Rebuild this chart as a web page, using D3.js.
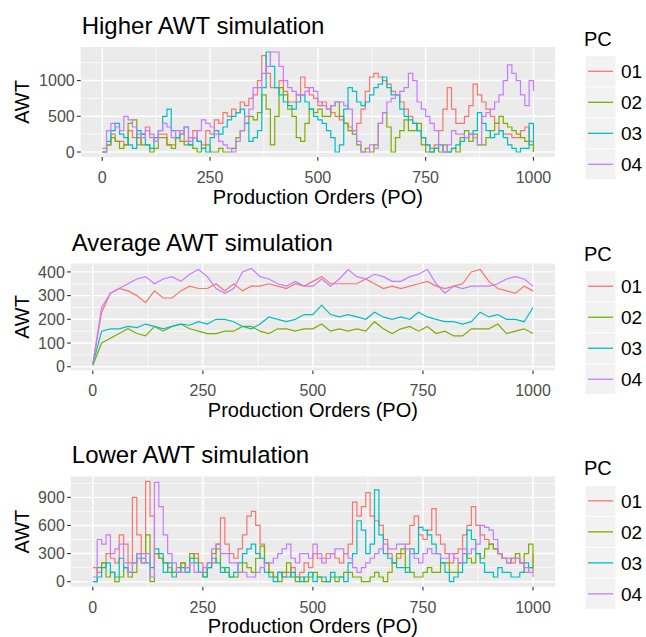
<!DOCTYPE html>
<html>
<head>
<meta charset="utf-8">
<script src="https://cdn.jsdelivr.net/npm/d3@7"></script>
<style>
  body { margin: 0; background: #fff; }
  svg { display: block; font-family: "Liberation Sans", Arial, sans-serif; }
</style>
</head>
<body>
<svg width="646" height="637"></svg>
<script>
// production orders, read every 10 POs (noisy panels) or every 20 POs (average panel)
const po10 = [0,10,20,30,40,50,60,70,80,90,100,110,120,130,140,150,160,170,180,190,
  200,210,220,230,240,250,260,270,280,290,300,310,320,330,340,350,360,370,380,390,
  400,410,420,430,440,450,460,470,480,490,500,510,520,530,540,550,560,570,580,590,
  600,610,620,630,640,650,660,670,680,690,700,710,720,730,740,750,760,770,780,790,
  800,810,820,830,840,850,860,870,880,890,900,910,920,930,940,950,960,970,980,990,1000];
const po20 = [0,20,40,60,80,100,120,140,160,180,200,220,240,260,280,300,320,340,360,380,
  400,420,440,460,480,500,520,540,560,580,600,620,640,660,680,700,720,740,760,780,
  800,820,840,860,880,900,920,940,960,980,1000];

const pcs = ["01", "02", "03", "04"];
const colors = ["#F8766D", "#7CAE00", "#00BFC4", "#C77CFF"];
const xTicks = [0, 250, 500, 750, 1000];

// Higher AWT simulation (po10)
const higher01 = [50,100,250,150,150,100,300,200,100,250, 350,200,150,250,250,100,100,200,300,150,
  200,300,150,100,300,250,450,400,550,500, 600,550,700,650,750,800,1000,1350,1100,900,
  900,1000,850,700,700,800,1050,900,800,750, 650,700,600,550,500,450,400,350,300,400,
  600,850,1050,1100,1050,1000,950,850,800,700, 600,500,400,300,200,100,50,100,300,600,
  900,600,400,400,500,650,950,800,700,600, 500,400,300,250,250,200,200,300,350,150, 0];
const higher02 = [0,100,200,150,50,100,400,450,200,100, 100,0,50,200,200,100,50,200,150,100,
  100,50,0,50,100,0,0,50,0,0, 50,200,300,400,500,450,550,800,600,100,
  500,900,800,600,500,200,150,400,600,550, 600,500,500,650,700,500,400,300,250,100,
  0,50,0,100,400,550,350,0,200,300, 450,300,300,400,100,0,0,50,0,100,
  0,50,0,200,300,150,250,100,100,200, 300,400,500,400,350,300,250,200,150,100, 0];
const higher03 = [0,150,300,400,250,200,100,50,300,250, 100,50,200,300,500,600,300,200,250,350,
  100,200,150,50,0,200,300,250,350,450, 500,550,600,400,150,200,300,900,1400,1200,
  900,800,700,650,600,700,800,700,600,500, 450,400,300,200,0,100,600,900,850,700,
  650,700,800,900,950,1050,900,800,800,600, 500,450,400,300,200,100,0,50,100,0,
  0,50,100,150,200,250,300,550,400,300, 200,250,300,200,100,50,0,50,50,400, 100];
const higher04 = [0,300,400,350,300,500,450,350,250,200, 300,250,150,300,400,350,200,300,250,350,
  150,200,300,450,400,350,250,150,100,50, 0,150,300,500,600,900,900,1100,1200,1400,
  1400,1200,1000,900,850,800,800,850,900,850, 700,650,600,650,700,700,650,600,300,150,
  0,0,100,50,400,550,700,750,800,850, 900,1100,1000,700,600,500,400,300,100,0,
  100,300,250,250,200,250,200,100,500,550, 600,700,800,1000,1220,1100,1000,800,650,1000, 850];

// Average AWT simulation (po20)
const average01 = [10,230,310,330,320,300,270,320,290,290, 320,340,330,330,350,320,350,320,340,340,
  350,340,330,350,340,360,380,350,350,350, 350,370,350,330,340,330,340,350,360,340,
  330,340,350,400,410,360,330,320,310,340,320];
const average02 = [5,100,120,140,160,140,130,170,150,170, 180,160,150,140,140,150,150,170,170,150,
  140,160,160,150,160,160,180,150,160,150, 160,150,190,160,140,160,170,150,170,140,
  150,130,130,160,160,160,180,140,150,160,140];
const average03 = [10,150,160,160,170,165,180,170,160,170, 180,175,190,180,200,200,190,170,160,180,
  210,200,190,200,220,220,260,220,210,220, 210,200,230,210,200,210,200,230,210,200,
  190,190,180,190,230,210,220,200,200,190,250];
const average04 = [10,250,310,330,350,370,380,350,370,380, 360,390,410,380,330,310,330,400,415,380,
  370,350,340,360,340,340,370,340,370,410, 380,370,390,380,360,360,380,390,410,350,
  310,340,330,340,340,340,350,370,380,370,340];

// Lower AWT simulation (po10)
const lower01 = [150,100,200,300,250,200,500,400,200,900, 500,300,1070,700,300,250,200,150,100,100,
  200,150,250,300,200,100,150,200,400,680, 400,300,250,350,500,700,750,600,400,200,
  100,50,100,50,100,150,50,100,200,150, 300,250,250,300,300,250,200,300,400,850,
  700,800,950,700,650,600,450,300,200,250, 300,400,600,700,500,450,550,780,500,400,
  300,200,300,350,500,600,800,600,500,450, 400,350,300,250,250,200,250,200,100,150, 300];
const lower02 = [0,150,200,50,100,0,50,150,50,100, 250,200,500,0,300,250,200,100,100,150,
  200,100,300,250,100,50,200,300,350,150, 100,50,50,100,200,150,100,250,380,200,
  100,50,0,100,200,50,0,50,0,50, 100,50,0,0,50,0,50,100,100,50,
  50,0,0,50,100,50,0,100,200,300, 350,150,100,50,50,100,150,100,100,200,
  200,100,100,200,300,250,200,300,250,350, 400,350,300,250,200,250,300,200,300,400, 100];
const lower03 = [0,50,150,200,100,50,250,150,100,200, 300,250,200,150,350,300,100,200,50,100,
  150,100,250,200,100,50,150,250,200,100, 150,50,100,200,300,350,400,300,250,100,
  50,0,100,50,50,100,50,0,50,100, 0,50,50,0,100,50,50,0,200,300,
  650,550,300,400,980,500,300,250,200,150, 150,100,350,300,580,550,500,400,300,200,
  100,0,50,100,200,550,450,300,200,100, 100,50,150,100,100,50,50,100,200,150, 150];
const lower04 = [50,450,400,500,300,350,400,200,100,200, 300,200,300,50,1060,800,500,300,200,100,
  100,150,200,100,100,150,200,350,400,300, 300,200,200,100,100,50,50,100,150,200,
  200,250,300,350,400,250,200,300,300,250, 400,300,200,250,300,350,350,300,250,150,
  100,150,200,250,300,350,400,350,350,400, 400,350,300,250,200,300,350,300,300,250,
  250,300,250,200,350,300,350,400,600,580, 550,450,300,250,200,250,250,200,150,100, 50];

const yTicksHigher = [0, 500, 1000];
const yTicksAverage = [0, 100, 200, 300, 400];
const yTicksLower = [0, 300, 600, 900];

const panels = [
  { title: "Higher AWT simulation", po: po10, series: [higher01, higher02, higher03, higher04],
    yTicks: yTicksHigher, left: 80.7, top: 47, bottom: 157, curve: d3.curveStepAfter },
  { title: "Average AWT simulation", po: po20, series: [average01, average02, average03, average04],
    yTicks: yTicksAverage, left: 70.8, top: 263.5, bottom: 370.4, curve: d3.curveLinear },
  { title: "Lower AWT simulation", po: po10, series: [lower01, lower02, lower03, lower04],
    yTicks: yTicksLower, left: 70.8, top: 476.4, bottom: 586.7, curve: d3.curveStepAfter }
];

const RIGHT = 555;
const svg = d3.select("svg");

// minor breaks half way between major ones (ggplot style)
function minors(ticks, lo, hi) {
  const out = [];
  const step = ticks[1] - ticks[0];
  for (let i = 0; i <= ticks.length; i++) {
    const v = ticks[0] + step * (i - 0.5);
    if (v > lo && v < hi) out.push(v);
  }
  return out;
}

panels.forEach(p => {
  const all = p.series.flat();
  const lo = d3.min(all), hi = d3.max(all);
  const pad = (hi - lo) * 0.05;
  const x = d3.scaleLinear().domain([-50, 1050]).range([p.left, RIGHT]);
  const y = d3.scaleLinear().domain([lo - pad, hi + pad]).range([p.bottom, p.top]);

  const g = svg.append("g");
  g.append("rect")
    .attr("x", p.left).attr("y", p.top)
    .attr("width", RIGHT - p.left).attr("height", p.bottom - p.top)
    .attr("fill", "#EBEBEB");

  // grid
  g.selectAll(".ymin").data(minors(p.yTicks, lo - pad, hi + pad)).enter().append("line")
    .attr("x1", p.left).attr("x2", RIGHT)
    .attr("y1", d => y(d)).attr("y2", d => y(d))
    .attr("stroke", "#fff").attr("stroke-width", 0.7);
  g.selectAll(".xmin").data(minors(xTicks, -50, 1050)).enter().append("line")
    .attr("y1", p.top).attr("y2", p.bottom)
    .attr("x1", d => x(d)).attr("x2", d => x(d))
    .attr("stroke", "#fff").attr("stroke-width", 0.7);
  g.selectAll(".ymaj").data(p.yTicks).enter().append("line")
    .attr("x1", p.left).attr("x2", RIGHT)
    .attr("y1", d => y(d)).attr("y2", d => y(d))
    .attr("stroke", "#fff").attr("stroke-width", 1.4);
  g.selectAll(".xmaj").data(xTicks).enter().append("line")
    .attr("y1", p.top).attr("y2", p.bottom)
    .attr("x1", d => x(d)).attr("x2", d => x(d))
    .attr("stroke", "#fff").attr("stroke-width", 1.4);

  // lines
  const line = d3.line().curve(p.curve).x((d, i) => x(p.po[i])).y(d => y(d));
  p.series.forEach((s, k) => {
    g.append("path").datum(s)
      .attr("d", line)
      .attr("fill", "none")
      .attr("stroke", colors[k])
      .attr("stroke-width", 1.2);
  });

  // axes
  g.selectAll(".xt").data(xTicks).enter().append("line")
    .attr("x1", d => x(d)).attr("x2", d => x(d))
    .attr("y1", p.bottom).attr("y2", p.bottom + 3.7)
    .attr("stroke", "#333").attr("stroke-width", 1.1);
  g.selectAll(".xl").data(xTicks).enter().append("text")
    .attr("x", d => x(d)).attr("y", p.bottom + 26)
    .attr("text-anchor", "middle").attr("font-size", 16).attr("fill", "#4D4D4D")
    .text(d => d);
  g.selectAll(".yt").data(p.yTicks).enter().append("line")
    .attr("x1", p.left - 3.7).attr("x2", p.left)
    .attr("y1", d => y(d)).attr("y2", d => y(d))
    .attr("stroke", "#333").attr("stroke-width", 1.1);
  g.selectAll(".yl").data(p.yTicks).enter().append("text")
    .attr("x", p.left - 6).attr("y", d => y(d) + 5.7)
    .attr("text-anchor", "end").attr("font-size", 16).attr("fill", "#4D4D4D")
    .text(d => d);

  g.append("text")
    .attr("x", (p.left + RIGHT) / 2).attr("y", p.bottom + 46.5)
    .attr("text-anchor", "middle").attr("font-size", 20)
    .text("Production Orders (PO)");
  const cy = (p.top + p.bottom) / 2;
  g.append("text")
    .attr("transform", `translate(29,${cy}) rotate(-90)`)
    .attr("text-anchor", "middle").attr("font-size", 20)
    .text("AWT");
  g.append("text")
    .attr("x", p.left + 1).attr("y", p.top - 13)
    .attr("font-size", 24)
    .text(p.title);

  // legend
  const ly = cy - 101.2;
  const leg = g.append("g").attr("transform", `translate(0,${ly})`);
  leg.append("text").attr("x", 584).attr("y", 45).attr("font-size", 20).text("PC");
  pcs.forEach((pc, k) => {
    const ky = 55.5 + k * 31;
    leg.append("rect").attr("x", 585.5).attr("y", ky)
      .attr("width", 30).attr("height", 30).attr("fill", "#F2F2F2");
    leg.append("line").attr("x1", 588).attr("x2", 613)
      .attr("y1", ky + 15).attr("y2", ky + 15)
      .attr("stroke", colors[k]).attr("stroke-width", 1.3);
    leg.append("text").attr("x", 621).attr("y", ky + 22)
      .attr("font-size", 19).text(pc);
  });
});
</script>
</body>
</html>
